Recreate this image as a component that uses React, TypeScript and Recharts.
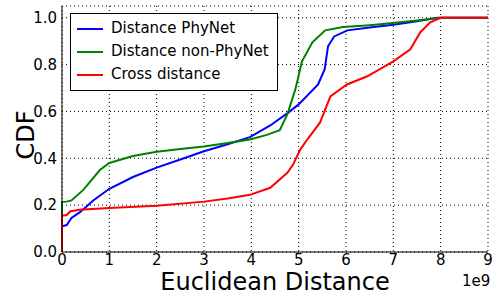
import React from 'react';
import { LineChart, Line, XAxis, YAxis, CartesianGrid } from 'recharts';

// x values in units of 1e9
const phynetX = [0, 0, 0.1, 0.2, 0.38, 0.66, 1, 1.5, 2, 2.5, 3, 3.5, 3.97, 4.4, 4.78, 5.0, 5.41, 5.55, 5.62, 5.75, 6.03, 6.5, 7, 7.5, 7.93, 9];
const phynetY = [0, 0.11, 0.115, 0.145, 0.17, 0.22, 0.27, 0.32, 0.36, 0.395, 0.43, 0.46, 0.49, 0.54, 0.595, 0.63, 0.715, 0.78, 0.878, 0.92, 0.946, 0.958, 0.97, 0.985, 1.0, 1.0];

const nonPhynetX = [0, 0, 0.1, 0.2, 0.45, 0.8, 1, 1.5, 2, 2.5, 3, 3.5, 3.97, 4.33, 4.6, 4.76, 4.93, 5.07, 5.29, 5.56, 5.94, 6.5, 6.93, 7.5, 8, 9];
const nonPhynetY = [0, 0.214, 0.215, 0.22, 0.265, 0.35, 0.38, 0.41, 0.428, 0.44, 0.45, 0.465, 0.48, 0.5, 0.52, 0.587, 0.694, 0.814, 0.895, 0.946, 0.96, 0.968, 0.976, 0.988, 1.0, 1.0];

const crossX = [0, 0, 0.1, 0.17, 0.36, 1, 2, 3, 3.5, 3.97, 4.4, 4.76, 4.88, 5.03, 5.18, 5.45, 5.67, 6.02, 6.45, 7, 7.36, 7.57, 7.78, 8, 9];
const crossY = [0, 0.155, 0.158, 0.173, 0.18, 0.188, 0.197, 0.215, 0.228, 0.244, 0.274, 0.338, 0.372, 0.436, 0.48, 0.552, 0.664, 0.715, 0.75, 0.814, 0.865, 0.938, 0.98, 1.0, 1.0];

const xTicks = [0, 1, 2, 3, 4, 5, 6, 7, 8, 9];
const yTicks = [0, 0.2, 0.4, 0.6, 0.8, 1.0];

const seriesNames = ['Distance PhyNet', 'Distance non-PhyNet', 'Cross distance'];
const seriesColors = ['#0000ff', '#008000', '#ff0000'];

const toPoints = (xs: number[], ys: number[]) => xs.map((x, i) => ({ x, y: ys[i] }));

const FONT = '"DejaVu Sans", sans-serif';

const LegendBox = () => (
  <div
    style={{
      position: 'absolute',
      left: 70,
      top: 13,
      border: '1px solid #000',
      background: '#fff',
      padding: '3px 8px 4px 6px',
      fontFamily: FONT,
      fontSize: 15,
      lineHeight: '23px',
      color: '#000',
    }}
  >
    {seriesNames.map((n, i) => (
      <div key={n} style={{ display: 'flex', alignItems: 'center' }}>
        <span style={{ display: 'inline-block', width: 26, height: 2, background: seriesColors[i], marginRight: 8 }} />
        <span>{n}</span>
      </div>
    ))}
  </div>
);

const App = () => {
  const data = [toPoints(phynetX, phynetY), toPoints(nonPhynetX, nonPhynetY), toPoints(crossX, crossY)];
  return (
    <div style={{ position: 'absolute', left: 0, top: 0, width: 492, height: 294, background: '#fff' }}>
      <LineChart width={492} height={294} margin={{ top: 6, right: 4, left: 0, bottom: 0 }}>
        <CartesianGrid stroke="#000" strokeDasharray="1 3" strokeWidth={1} />
        <XAxis
          dataKey="x"
          type="number"
          domain={[0, 9]}
          ticks={xTicks}
          allowDuplicatedCategory={false}
          height={42}
          stroke="#000"
          tickLine={false}
          tickSize={0}
          tickMargin={2}
          tick={{ fill: '#000', fontSize: 15, fontFamily: FONT }}
          label={{ value: 'Euclidean Distance', position: 'insideBottom', offset: 4, fill: '#000', fontSize: 24, fontFamily: FONT }}
        />
        <XAxis xAxisId="top" orientation="top" type="number" domain={[0, 9]} height={0} tick={false} tickLine={false} stroke="#000" />
        <YAxis
          type="number"
          domain={[0, 1.05]}
          ticks={yTicks}
          width={62}
          stroke="#000"
          tickLine={false}
          tickSize={0}
          tickMargin={5}
          tickFormatter={(v: number) => v.toFixed(1)}
          tick={{ fill: '#000', fontSize: 15, fontFamily: FONT }}
        />
        <YAxis yAxisId="right" orientation="right" domain={[0, 1.05]} width={0} tick={false} tickLine={false} stroke="#000" />
        {data.map((d, i) => (
          <Line
            key={seriesNames[i]}
            data={d}
            dataKey="y"
            name={seriesNames[i]}
            type="linear"
            stroke={seriesColors[i]}
            strokeWidth={2}
            dot={false}
            isAnimationActive={false}
          />
        ))}
      </LineChart>
      <LegendBox />
      <div
        style={{
          position: 'absolute',
          left: -4,
          top: 121,
          width: 60,
          height: 28,
          lineHeight: '28px',
          textAlign: 'center',
          transform: 'rotate(-90deg)',
          fontFamily: FONT,
          fontSize: 24,
          color: '#000',
        }}
      >
        CDF
      </div>
      <div style={{ position: 'absolute', left: 462, top: 272, fontFamily: FONT, fontSize: 15, color: '#000' }}>1e9</div>
    </div>
  );
};

export default App;
